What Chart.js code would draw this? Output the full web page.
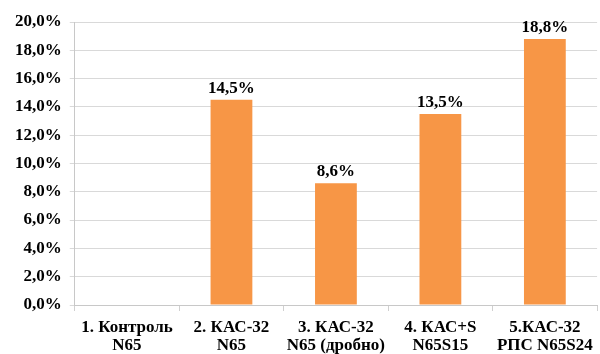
<!DOCTYPE html>
<html>
<head>
<meta charset="utf-8">
<script src="https://cdn.jsdelivr.net/npm/chart.js@4/dist/chart.umd.min.js"></script>
<style>
  html, body { margin: 0; padding: 0; background: #fff; }
  #wrap { width: 600px; height: 354px; }
</style>
</head>
<body>
<div id="wrap"><canvas id="chart"></canvas></div>
<script>
const categories = [
  ['1. Контроль', 'N65'],
  ['2. КАС-32', 'N65'],
  ['3. КАС-32', 'N65 (дробно)'],
  ['4. КАС+S', 'N65S15'],
  ['5.КАС-32', 'РПС N65S24']
];
const values = [0, 14.5, 8.6, 13.5, 18.8];
const yTicks = [0, 2, 4, 6, 8, 10, 12, 14, 16, 18, 20];

const FONT = '"Liberation Serif", "Times New Roman", serif';
const fmt = v => v.toFixed(1).replace('.', ',') + '%';

// value labels above bars
const barLabels = {
  id: 'barLabels',
  afterDatasetsDraw(chart) {
    const ctx = chart.ctx;
    const meta = chart.getDatasetMeta(0);
    ctx.save();
    ctx.font = 'bold 17px ' + FONT;
    ctx.fillStyle = '#000';
    ctx.textAlign = 'center';
    ctx.textBaseline = 'bottom';
    meta.data.forEach((bar, i) => {
      if (!values[i]) return;
      ctx.fillText(fmt(values[i]), bar.x, bar.y - 3);
    });
    ctx.restore();
  }
};

new Chart(document.getElementById('chart'), {
  type: 'bar',
  data: {
    labels: categories,
    datasets: [{
      data: values,
      backgroundColor: '#F79646',
      categoryPercentage: 0.4,
      barPercentage: 1
    }]
  },
  options: {
    responsive: true,
    maintainAspectRatio: false,
    animation: false,
    layout: { padding: { top: 22, right: 2, left: 7, bottom: 0 } },
    plugins: { legend: { display: false }, tooltip: { enabled: false } },
    scales: {
      x: {
        // the original picture cuts the second label line at the bottom edge
        afterFit: scale => { scale.height = 49; },
        grid: { display: true, drawOnChartArea: false, offset: true, color: '#d0d0d0', tickLength: 6 },
        border: { color: '#c8c8c8' },
        ticks: {
          color: '#000',
          font: { family: FONT, size: 17, weight: 'bold', lineHeight: 1.1 },
          maxRotation: 0,
          padding: 7
        }
      },
      y: {
        min: 0,
        max: 20,
        afterBuildTicks: axis => { axis.ticks = yTicks.map(v => ({ value: v })); },
        grid: { color: '#d9d9d9', tickLength: 5 },
        border: { color: '#c8c8c8' },
        ticks: {
          color: '#000',
          padding: 8,
          font: { family: FONT, size: 17, weight: 'bold' },
          callback: v => fmt(v)
        }
      }
    }
  },
  plugins: [barLabels]
});
</script>
</body>
</html>
